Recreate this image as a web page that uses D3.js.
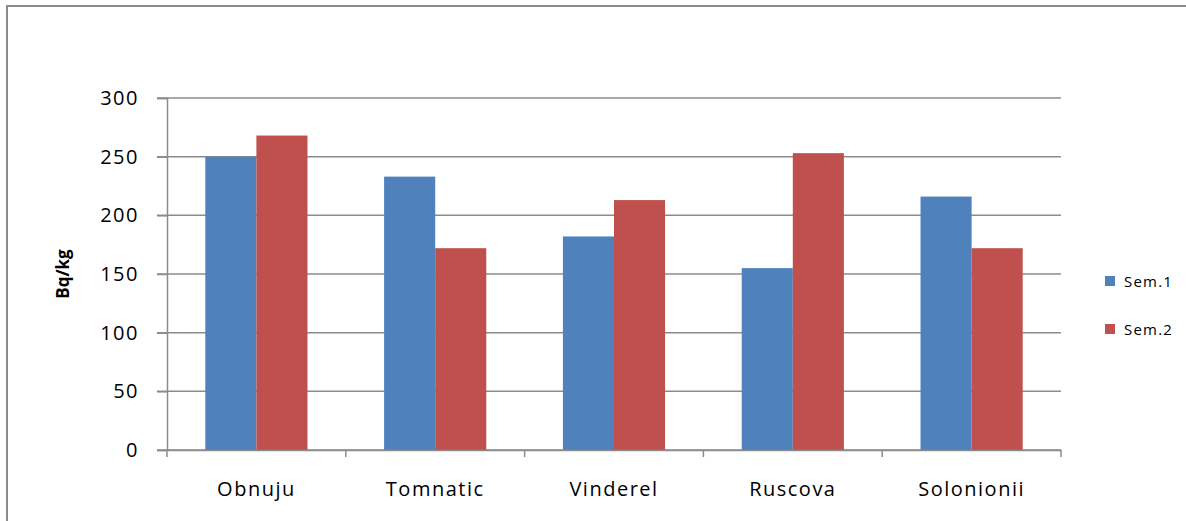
<!DOCTYPE html>
<html>
<head>
<meta charset="utf-8">
<script src="https://cdn.jsdelivr.net/npm/d3@7"></script>
<style>
  body { margin: 0; background: #fff; }
  svg { display: block; font-family: "Open Sans", sans-serif; }
</style>
</head>
<body>
<div id="chart"></div>
<script>
var categories = ["Obnuju", "Tomnatic", "Vinderel", "Ruscova", "Solonionii"]
var seriesNames = ["Sem.1", "Sem.2"]
var sem1 = [250, 233, 182, 155, 216]
var sem2 = [268, 172, 213, 253, 172]
var yTicks = [0, 50, 100, 150, 200, 250, 300]
var colors = ["#4f81bd", "#c0504d"]

var width = 1186, height = 521
var margin = { top: 98, left: 167, right: 125, bottom: 71 }

var svg = d3.select("#chart").append("svg")
  .attr("width", width)
  .attr("height", height)

// outer chart border
svg.append("rect")
  .attr("x", 7).attr("y", 6)
  .attr("width", width + 10).attr("height", height + 10)
  .attr("fill", "none")
  .attr("stroke", "#8c8c8c")
  .attr("stroke-width", 2)

var x = d3.scaleBand()
  .domain(categories)
  .range([margin.left, width - margin.right])

var x1 = d3.scaleBand()
  .domain(seriesNames)
  .range([0, x.bandwidth()])
  .paddingOuter(0.75)
  .paddingInner(0)

var y = d3.scaleLinear()
  .domain([0, 300])
  .range([height - margin.bottom, margin.top])

// gridlines
svg.append("g")
  .selectAll("line")
  .data(yTicks)
  .join("line")
  .attr("x1", margin.left - 10)
  .attr("x2", width - margin.right)
  .attr("y1", function(d) { return y(d) })
  .attr("y2", function(d) { return y(d) })
  .attr("stroke", "#8c8c8c")
  .attr("stroke-width", 1.5)

var data = categories.map(function(c, i) {
  return { cat: c, vals: [sem1[i], sem2[i]] }
})

var groups = svg.append("g")
  .selectAll("g")
  .data(data)
  .join("g")
  .attr("transform", function(d) { return "translate(" + x(d.cat) + ",0)" })

groups.selectAll("rect")
  .data(function(d) {
    return d.vals.map(function(v, j) { return { name: seriesNames[j], value: v, j: j } })
  })
  .join("rect")
  .attr("x", function(d) { return x1(d.name) })
  .attr("width", x1.bandwidth())
  .attr("y", function(d) { return y(d.value) })
  .attr("height", function(d) { return y(0) - y(d.value) })
  .attr("fill", function(d) { return colors[d.j] })

// y axis
var yAxis = svg.append("g")
  .attr("transform", "translate(" + margin.left + ",0)")
  .call(d3.axisLeft(y).tickValues(yTicks).tickSize(10).tickPadding(18))
yAxis.select(".domain").attr("stroke", "#8c8c8c").attr("stroke-width", 1.5)
yAxis.selectAll(".tick line").attr("stroke", "#8c8c8c").attr("stroke-width", 1.5)
yAxis.selectAll("text")
  .attr("font-size", 20)
  .attr("letter-spacing", 1.5)
  .attr("font-family", "Open Sans")
  .attr("fill", "#000")

// x axis
var xAxis = svg.append("g")
  .attr("transform", "translate(0," + y(0) + ")")
  .call(d3.axisBottom(x).tickSize(0).tickPadding(32))
xAxis.select(".domain").attr("stroke", "#8c8c8c").attr("stroke-width", 1.5)
xAxis.selectAll("text")
  .attr("font-size", 20)
  .attr("letter-spacing", 1.5)
  .attr("font-family", "Open Sans")
  .attr("fill", "#000")

// category separators
var bounds = categories.map(function(c) { return x(c) }).concat([x.range()[1]])
svg.append("g")
  .selectAll("line")
  .data(bounds)
  .join("line")
  .attr("x1", function(d) { return d })
  .attr("x2", function(d) { return d })
  .attr("y1", y(0))
  .attr("y2", y(0) + 7)
  .attr("stroke", "#8c8c8c")
  .attr("stroke-width", 1.5)

// y title
svg.append("text")
  .attr("transform", "translate(69," + (y(150)) + ") rotate(-90)")
  .attr("text-anchor", "middle")
  .attr("font-size", 17)
  .attr("font-weight", "bold")
  .text("Bq/kg")

// legend
var legend = svg.append("g")
  .selectAll("g")
  .data(seriesNames)
  .join("g")
  .attr("transform", function(d, i) { return "translate(1105," + (276 + i * 48) + ")" })

legend.append("rect")
  .attr("width", 10).attr("height", 10)
  .attr("fill", function(d, i) { return colors[i] })

legend.append("text")
  .attr("x", 19)
  .attr("y", 11)
  .attr("font-size", 15)
  .attr("letter-spacing", 1.2)
  .text(function(d) { return d })
</script>
</body>
</html>
